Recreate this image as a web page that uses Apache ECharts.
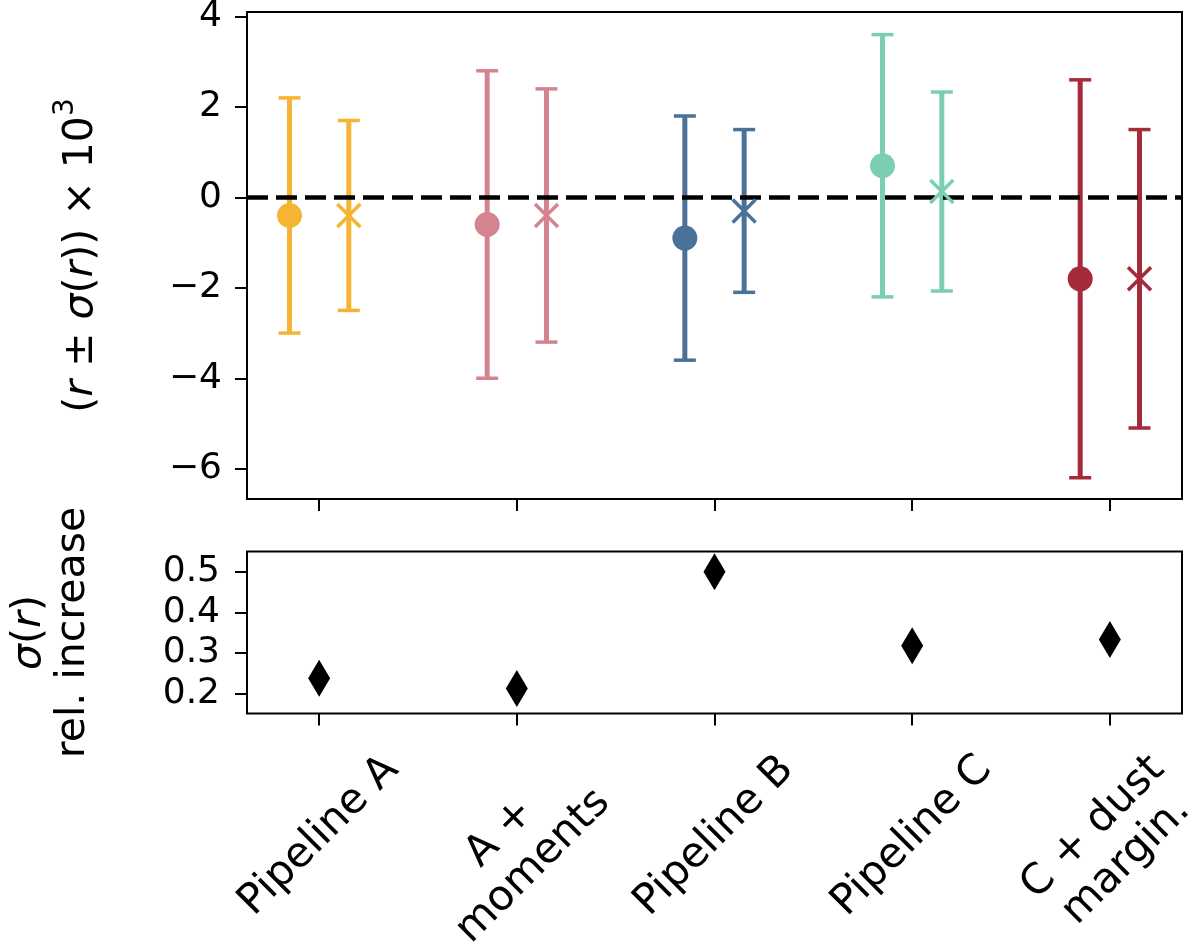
<!DOCTYPE html>
<html><head><meta charset="utf-8">
<script src="https://cdn.jsdelivr.net/npm/echarts@6/dist/echarts.min.js"></script>
<style>html,body{margin:0;padding:0;background:#fff}#c{width:1200px;height:948px}</style>
</head><body><div id="c"></div>
<script>
// ---- data ----
const categories = ['Pipeline A', 'A +\nmoments', 'Pipeline B', 'Pipeline C', 'C + dust\nmargin.'];
const rBase = [-0.4, -0.6, -0.9, 0.7, -1.8];
const sigmaBase = [2.6, 3.4, 2.7, 2.9, 4.4];
const rMarg = [-0.4, -0.4, -0.3, 0.13, -1.8];
const sigmaMarg = [2.1, 2.8, 1.8, 2.2, 3.3];
const relIncrease = [0.237, 0.212, 0.50, 0.317, 0.333];
const topTicks = [-6, -4, -2, 0, 2, 4];
const bottomTicks = [0.2, 0.3, 0.4, 0.5];
const catTicks = [0, 1, 2, 3, 4];

// ---- style ----
const colors = ['#F6B434', '#D4848F', '#4A7298', '#7CCEB2', '#A52A3A'];
const FONT = 'DejaVu Sans';
const FS_Y = 36;     // y tick labels
const FS_X = 42;     // rotated category labels
const FS_N = 41;     // axis names
const LH = 47;
const OFF = 0.15;
const X_MIN = -0.365, X_MAX = 4.365;
const GL = 247, GW = 935;

const errData = [];
categories.forEach((c, i) => {
  errData.push([i - OFF, rBase[i], rBase[i] - sigmaBase[i], rBase[i] + sigmaBase[i], i, 0]);
  errData.push([i + OFF, rMarg[i], rMarg[i] - sigmaMarg[i], rMarg[i] + sigmaMarg[i], i, 1]);
});

function renderBars(params, api) {
  const x = api.value(0), lo = api.value(2), hi = api.value(3);
  const c = colors[api.value(4)];
  const pT = api.coord([x, hi]), pB = api.coord([x, lo]);
  const cap = 11;
  return { type: 'group', children: [
    { type: 'line', shape: { x1: pT[0], y1: pT[1], x2: pB[0], y2: pB[1] }, style: { stroke: c, lineWidth: 5 } },
    { type: 'line', shape: { x1: pT[0] - cap, y1: pT[1], x2: pT[0] + cap, y2: pT[1] }, style: { stroke: c, lineWidth: 3.5 } },
    { type: 'line', shape: { x1: pB[0] - cap, y1: pB[1], x2: pB[0] + cap, y2: pB[1] }, style: { stroke: c, lineWidth: 3.5 } }
  ]};
}
function renderMarks(params, api) {
  const x = api.value(0), r = api.value(1);
  const c = colors[api.value(4)];
  const p = api.coord([x, r]);
  if (api.value(5) === 0) {
    return { type: 'circle', shape: { cx: p[0], cy: p[1], r: 12.5 }, style: { fill: c } };
  }
  const h = 11.5;
  return { type: 'group', children: [
    { type: 'line', shape: { x1: p[0] - h, y1: p[1] - h, x2: p[0] + h, y2: p[1] + h }, style: { stroke: c, lineWidth: 3.5 } },
    { type: 'line', shape: { x1: p[0] - h, y1: p[1] + h, x2: p[0] + h, y2: p[1] - h }, style: { stroke: c, lineWidth: 3.5 } }
  ]};
}

// rotated, centred category labels sharing a common top edge (as in the reference)
const ctx = document.createElement('canvas').getContext('2d');
ctx.font = FS_X + 'px "' + FONT + '"';
const PAD = 33;
function labelMargin(text) {
  const lines = text.split('\n');
  const W = Math.max(...lines.map(l => ctx.measureText(l).width));
  const H = lines.length * LH;
  return PAD + 0.3536 * (W + H);
}

const tickStyle = { show: true, inside: false, length: 12, lineStyle: { color: '#000', width: 2 } };
const noLine = { show: false, onZero: false };
const yLabel = { fontSize: FS_Y, fontFamily: FONT, color: '#000' };
const xLabel = { fontSize: FS_X, fontFamily: FONT, color: '#000' };
const nLabel = { fontSize: FS_N, fontFamily: FONT, color: '#000' };

const xAxes = [
  { gridIndex: 0, type: 'value', min: X_MIN, max: X_MAX, position: 'bottom',
    axisLine: noLine, splitLine: { show: false },
    axisTick: Object.assign({}, tickStyle, { customValues: catTicks }),
    axisLabel: { show: false } },
  { gridIndex: 1, type: 'value', min: X_MIN, max: X_MAX, position: 'bottom',
    axisLine: noLine, splitLine: { show: false },
    axisTick: Object.assign({}, tickStyle, { customValues: catTicks }),
    axisLabel: { show: false } }
];
categories.forEach((c, i) => {
  xAxes.push({ gridIndex: 1, type: 'value', min: X_MIN, max: X_MAX, position: 'bottom', offset: 0,
    axisLine: noLine, splitLine: { show: false }, axisTick: { show: false },
    axisLabel: Object.assign({}, xLabel, {
      customValues: [i], rotate: 45, align: 'center', verticalAlign: 'middle', lineHeight: LH,
      margin: labelMargin(c), formatter: v => categories[Math.round(v)]
    }) });
});

const chart = echarts.init(document.getElementById('c'), null, { renderer: 'canvas' });
chart.setOption({
  animation: false,
  backgroundColor: '#fff',
  grid: [
    { left: GL, top: 12, width: GW, height: 487, show: true, borderColor: '#000', borderWidth: 2, backgroundColor: 'transparent', outerBoundsMode: 'none' },
    { left: GL, top: 551.5, width: GW, height: 162, show: true, borderColor: '#000', borderWidth: 2, backgroundColor: 'transparent', outerBoundsMode: 'none' }
  ],
  xAxis: xAxes,
  yAxis: [
    { gridIndex: 0, type: 'value', min: -6.67, max: 4.1,
      axisLine: noLine, splitLine: { show: false },
      axisTick: Object.assign({}, tickStyle, { customValues: topTicks }),
      axisLabel: Object.assign({}, yLabel, { customValues: topTicks, margin: 25,
        formatter: v => String(v).replace('-', '\u2212') }),
      name: '({i|r} ± {i|σ}({i|r})) × 10{sup|3}',
      nameLocation: 'middle', nameRotate: 90, nameGap: 137,
      nameTextStyle: Object.assign({}, nLabel, { lineHeight: 58, rich: {
        i: Object.assign({}, nLabel, { fontStyle: 'italic', lineHeight: 58 }),
        sup: Object.assign({}, nLabel, { fontSize: 28, lineHeight: 28, verticalAlign: 'top' })
      } })
    },
    { gridIndex: 1, type: 'value', min: 0.15, max: 0.55,
      axisLine: noLine, splitLine: { show: false },
      axisTick: Object.assign({}, tickStyle, { customValues: bottomTicks }),
      axisLabel: Object.assign({}, yLabel, { customValues: bottomTicks, margin: 27,
        formatter: v => v.toFixed(1) }),
      name: '{i|σ}({i|r})\nrel. increase',
      nameLocation: 'middle', nameRotate: 90, nameGap: 152,
      nameTextStyle: Object.assign({}, nLabel, { lineHeight: 44, rich: { i: Object.assign({}, nLabel, { fontStyle: 'italic', lineHeight: 44 }) } })
    }
  ],
  series: [
    { type: 'custom', xAxisIndex: 0, yAxisIndex: 0, z: 2, data: errData, renderItem: renderBars,
      markLine: { silent: true, symbol: 'none', label: { show: false }, animation: false,
        lineStyle: { color: '#000', width: 4.5, type: [21, 8] }, data: [{ yAxis: 0 }] } },
    { type: 'custom', xAxisIndex: 0, yAxisIndex: 0, z: 10, data: errData, renderItem: renderMarks },
    { type: 'scatter', xAxisIndex: 1, yAxisIndex: 1, symbol: 'diamond', symbolSize: [22, 37],
      itemStyle: { color: '#000', opacity: 1 }, data: relIncrease.map((v, i) => [i, v]) }
  ]
});
</script></body></html>
